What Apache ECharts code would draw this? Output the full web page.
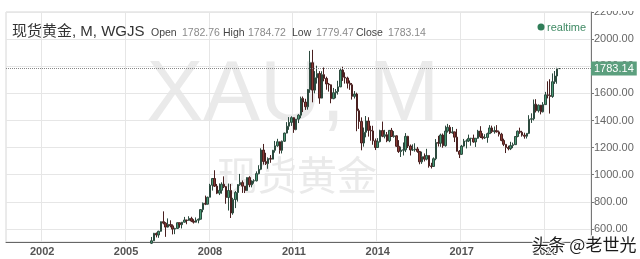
<!DOCTYPE html>
<html><head><meta charset="utf-8">
<script src="https://cdn.jsdelivr.net/npm/echarts@6/dist/echarts.min.js"></script>
<style>html,body{margin:0;padding:0;background:#fff}#c{width:640px;height:259px}</style>
</head><body><div id="c"></div>
<script>
// Axis range of months shown (category axis)
var axisStart = [2000, 10];
var axisEnd = [2021, 8];
var dataStart = [2005, 12];
var yearLabels = ['2002','2005','2008','2011','2014','2017','2020'];
var yTicks = [600, 800, 1000, 1200, 1400, 1600, 1800, 2000, 2200];

// Monthly OHLC, Dec 2005 .. Jul 2020
var open = [495,
 513,568,556,583,654,643,614,633,623,599,604,646,
 632,650,666,663,678,658,650,665,672,743,789,783,
 834,923,972,916,864,885,930,912,832,884,718,817,
 869,927,942,916,884,979,926,954,955,1008,1040,1182,
 1097,1082,1119,1115,1180,1213,1243,1180,1247,1307,1358,1386,
 1421,1333,1410,1439,1563,1536,1501,1628,1826,1624,1715,1746,
 1565,1738,1710,1669,1663,1561,1605,1614,1648,1772,1719,1713,
 1675,1663,1578,1595,1472,1393,1234,1313,1396,1327,1323,1250,
 1201,1244,1326,1284,1295,1250,1327,1282,1287,1210,1171,1181,
 1184,1283,1212,1183,1184,1190,1172,1095,1133,1115,1142,1065,
 1061,1118,1238,1232,1293,1214,1322,1350,1309,1316,1277,1173,
 1151,1211,1248,1249,1268,1269,1242,1269,1322,1280,1271,1275,
 1303,1345,1318,1325,1316,1299,1253,1224,1201,1192,1215,1222,
 1282,1321,1313,1292,1284,1305,1409,1413,1520,1472,1513,1464,
 1517,1589,1585,1577,1686,1728,1782.76];
var high = [541,
 571,574,587,655,730,650,678,664,634,609,648,647,
 652,689,667,694,690,672,685,677,747,795,846,838,
 933,976,1033,932,936,944,988,917,935,932,830,880,
 931,1006,958,916,981,989,959,967,1025,1070,1195,1227,
 1162,1128,1145,1183,1249,1265,1245,1252,1310,1388,1425,1431,
 1424,1411,1447,1576,1577,1560,1632,1913,1921,1764,1804,1764,
 1763,1791,1723,1677,1666,1640,1632,1693,1788,1796,1755,1723,
 1695,1676,1617,1605,1487,1423,1348,1433,1424,1361,1361,1267,
 1270,1332,1392,1331,1315,1326,1345,1322,1290,1255,1207,1238,
 1307,1287,1223,1224,1232,1205,1175,1170,1157,1191,1142,1088,
 1128,1263,1287,1303,1304,1362,1375,1366,1352,1318,1338,1182,
 1220,1264,1261,1296,1272,1296,1270,1331,1358,1306,1299,1310,
 1366,1362,1356,1366,1326,1309,1266,1224,1214,1243,1237,1284,
 1326,1347,1324,1310,1306,1439,1453,1555,1557,1518,1515,1535,
 1611,1689,1704,1747,1765,1789,1784.72];
var low = [489,
 515,538,535,580,634,542,610,612,560,562,603,609,
 604,648,635,662,651,640,648,642,670,723,776,781,
 834,883,910,857,850,860,902,786,736,681,705,754,
 802,918,866,865,881,908,907,934,951,1003,1034,1075,
 1072,1044,1088,1114,1163,1206,1155,1157,1242,1305,1331,1360,
 1309,1328,1381,1417,1462,1478,1480,1604,1534,1600,1672,1523,
 1563,1689,1627,1613,1527,1557,1564,1591,1646,1692,1672,1636,
 1626,1554,1562,1321,1338,1180,1207,1276,1281,1251,1221,1182,
 1202,1238,1277,1268,1240,1240,1281,1273,1206,1161,1131,1142,
 1167,1197,1142,1175,1170,1162,1077,1080,1098,1106,1052,1046,
 1062,1107,1208,1206,1199,1207,1311,1301,1303,1241,1171,1123,
 1146,1207,1194,1241,1214,1236,1205,1266,1271,1260,1264,1236,
 1302,1307,1303,1311,1282,1247,1211,1160,1180,1182,1196,1221,
 1276,1302,1281,1266,1267,1300,1382,1400,1459,1459,1445,1459,
 1517,1563,1451,1567,1670,1671,1779.47];
var close = [513,
 568,556,583,654,643,614,633,623,599,604,646,632,
 650,666,663,678,658,650,665,672,743,789,783,834,
 923,972,916,864,885,930,912,832,884,718,817,869,
 927,942,916,884,979,926,954,955,1008,1040,1182,1097,
 1082,1119,1115,1180,1213,1243,1180,1247,1307,1358,1386,1421,
 1333,1410,1439,1563,1536,1501,1628,1826,1624,1715,1746,1565,
 1738,1710,1669,1663,1561,1605,1614,1648,1772,1719,1713,1675,
 1663,1578,1595,1472,1393,1234,1313,1396,1327,1323,1250,1201,
 1244,1326,1284,1295,1250,1327,1282,1287,1210,1171,1181,1184,
 1283,1212,1183,1184,1190,1172,1095,1133,1115,1142,1065,1061,
 1118,1238,1232,1293,1214,1322,1350,1309,1316,1277,1173,1151,
 1211,1248,1249,1268,1269,1242,1269,1322,1280,1271,1275,1303,
 1345,1318,1325,1316,1299,1253,1224,1201,1192,1215,1222,1282,
 1321,1313,1292,1284,1305,1409,1413,1520,1472,1513,1464,1517,
 1589,1585,1577,1686,1728,1781,1783.14];
var lastClose = 1783.14;

// build categories
var months = [];
for (var y = axisStart[0], m = axisStart[1]; y < axisEnd[0] || (y === axisEnd[0] && m <= axisEnd[1]); ) {
  months.push(y + '-' + (m < 10 ? '0' + m : m));
  m++; if (m > 12) { m = 1; y++; }
}
var offset = (dataStart[0] - axisStart[0]) * 12 + (dataStart[1] - axisStart[1]);
var candles = months.map(function (_, i) {
  var k = i - offset;
  if (k < 0 || k >= close.length) return ['-', '-', '-', '-'];
  return [open[k], close[k], low[k], high[k]];
});
function isYearTick(idx) {
  var s = months[idx];
  return s.slice(5) === '01' && yearLabels.indexOf(s.slice(0, 4)) >= 0;
}

var chart = echarts.init(document.getElementById('c'));
var F = '"Liberation Sans", Arial, Helvetica, sans-serif';
chart.setOption({
  animation: false,
  textStyle: { fontFamily: F },
  grid: { left: 6, right: 49, top: 12, bottom: 17, show: true, borderColor: '#d6d6d6', borderWidth: 1 },
  xAxis: {
    type: 'category', data: months, boundaryGap: true,
    axisLine: { lineStyle: { color: '#666', width: 1 } },
    axisTick: { show: false },
    axisLabel: {
      interval: function (i) { return isYearTick(i); },
      formatter: function (v) { return v.slice(0, 4); },
      color: '#555', fontWeight: 'bold', fontSize: 11, margin: 4, fontFamily: F
    },
    splitLine: { show: true, interval: function (i) { return isYearTick(i); }, lineStyle: { color: '#e6e6e6' } }
  },
  yAxis: {
    type: 'value', position: 'right', min: 504, max: 2200, splitNumber: 8, scale: true,
    axisLine: { show: true, lineStyle: { color: '#777' } },
    axisTick: { show: true, length: 3, lineStyle: { color: '#777' } },
    axisLabel: {
      showMinLabel: false, color: '#666', fontSize: 11, margin: 3, fontFamily: F,
      formatter: function (v) { return yTicks.indexOf(v) >= 0 ? v.toFixed(2) : ''; }
    },
    splitLine: { lineStyle: { color: '#e6e6e6' } }
  },
  graphic: [
    { type: 'text', z: -5, silent: true, style: { text: 'XAU, M', x: 293, y: 97, align: 'center', verticalAlign: 'middle', font: '85px ' + F, fill: '#eaeaea' } },
    { type: 'text', z: -5, silent: true, style: { text: '现货黄金', x: 297, y: 175, align: 'center', verticalAlign: 'middle', font: '40px "Noto Sans CJK SC", sans-serif', fill: '#eaeaea' } },
    { type: 'rect', z: 50, silent: true, shape: { x: 594, y: 0, width: 46, height: 11 }, style: { fill: '#fff' } },
    { type: 'text', z: 60, style: { text: '现货黄金, M, WGJS', x: 12, y: 32, verticalAlign: 'middle', font: '15px "Liberation Sans", "Noto Sans CJK SC", sans-serif', fill: '#333' } },
    { type: 'text', z: 60, style: { text: 'Open', x: 151, y: 33, verticalAlign: 'middle', font: '10.5px ' + F, fill: '#444' } },
    { type: 'text', z: 60, style: { text: '1782.76', x: 182, y: 33, verticalAlign: 'middle', font: '10.5px ' + F, fill: '#8a8a8a' } },
    { type: 'text', z: 60, style: { text: 'High', x: 223, y: 33, verticalAlign: 'middle', font: '10.5px ' + F, fill: '#444' } },
    { type: 'text', z: 60, style: { text: '1784.72', x: 248, y: 33, verticalAlign: 'middle', font: '10.5px ' + F, fill: '#8a8a8a' } },
    { type: 'text', z: 60, style: { text: 'Low', x: 292, y: 33, verticalAlign: 'middle', font: '10.5px ' + F, fill: '#444' } },
    { type: 'text', z: 60, style: { text: '1779.47', x: 316, y: 33, verticalAlign: 'middle', font: '10.5px ' + F, fill: '#8a8a8a' } },
    { type: 'text', z: 60, style: { text: 'Close', x: 356, y: 33, verticalAlign: 'middle', font: '10.5px ' + F, fill: '#444' } },
    { type: 'text', z: 60, style: { text: '1783.14', x: 388, y: 33, verticalAlign: 'middle', font: '10.5px ' + F, fill: '#8a8a8a' } },
    { type: 'circle', z: 60, shape: { cx: 541, cy: 27, r: 3.5 }, style: { fill: '#2f7d58' } },
    { type: 'text', z: 60, style: { text: 'realtime', x: 547, y: 28, verticalAlign: 'middle', font: '11px ' + F, fill: '#3f8a64' } },
    { type: 'text', z: 70, style: { text: '头条 @老世光', x: 584, y: 245, align: 'center', verticalAlign: 'middle', font: '17px "Noto Sans CJK SC", sans-serif', fill: '#1a1a1a', stroke: '#fff', lineWidth: 2 } }
  ],
  series: [{
    type: 'candlestick', data: candles, barWidth: 2, z: 3,
    itemStyle: { color: '#4a9a76', color0: '#8b3a34', borderColor: '#2c4a3e', borderColor0: '#4a2020', borderWidth: 1 },
    markLine: {
      silent: true, symbol: 'none', animation: false,
      data: [{ yAxis: lastClose }],
      lineStyle: { type: 'dotted', color: '#888', width: 1 },
      label: { position: 'end', formatter: String(lastClose), backgroundColor: '#5c9f7e', color: '#fff', padding: [2, 3, 1, 3], fontSize: 11, distance: 0, fontFamily: F }
    }
  }]
});
</script></body></html>
